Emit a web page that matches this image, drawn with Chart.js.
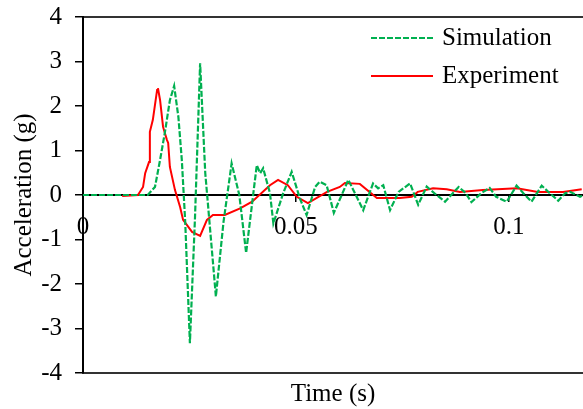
<!DOCTYPE html>
<html>
<head>
<meta charset="utf-8">
<script src="https://cdn.jsdelivr.net/npm/chart.js@4"></script>
<style>
  body { margin: 0; background: #fff; }
  #wrap { width: 583px; height: 409px; }
</style>
</head>
<body>
<div id="wrap"><canvas id="accelChart" width="583" height="409"></canvas></div>
<script>
// values
const simTime = [0, 0.0152, 0.0169, 0.0181, 0.0192, 0.0204, 0.0214, 0.0224, 0.0232, 0.0240, 0.0251, 0.0263, 0.0275, 0.0287, 0.0312, 0.0330, 0.0349, 0.0367, 0.0383, 0.0408, 0.0416, 0.0423, 0.0439, 0.0447, 0.0470, 0.0490, 0.0509, 0.0525, 0.0545, 0.0556, 0.0572, 0.0589, 0.0623, 0.0658, 0.0681, 0.0693, 0.0705, 0.0721, 0.0741, 0.0768, 0.0787, 0.0807, 0.0830, 0.0850, 0.0882, 0.0898, 0.0912, 0.0935, 0.0955, 0.0970, 0.0995, 0.1018, 0.1034, 0.1053, 0.1077, 0.1096, 0.1116, 0.1132, 0.1144, 0.1167, 0.1175];
const simAccel = [0, 0, 0.18, 0.79, 1.39, 2.13, 2.45, 1.75, 0.79, -0.6, -3.33, -0.5, 2.96, 0.5, -2.28, -0.6, 0.71, 0.0, -1.30, 0.67, 0.49, 0.60, 0.04, -0.64, 0.04, 0.52, -0.07, -0.45, 0.18, 0.30, 0.22, -0.40, 0.34, -0.34, 0.26, 0.15, 0.22, -0.34, 0.07, 0.26, -0.22, 0.19, 0.0, -0.15, 0.18, 0.05, -0.16, 0.04, 0.16, -0.04, -0.15, 0.21, 0.04, -0.15, 0.21, 0.04, -0.13, 0.04, 0.07, -0.04, 0.0];

const expTime = [0.0092, 0.0129, 0.0141, 0.0146, 0.0155, 0.0157, 0.0164, 0.0174, 0.0176, 0.0181, 0.0188, 0.0197, 0.0200, 0.0204, 0.0216, 0.0228, 0.0235, 0.0256, 0.0275, 0.0291, 0.0305, 0.0333, 0.0369, 0.0397, 0.0439, 0.0458, 0.0481, 0.0502, 0.0528, 0.0573, 0.0603, 0.0615, 0.0650, 0.0690, 0.0744, 0.0772, 0.0786, 0.0822, 0.0854, 0.0885, 0.0939, 0.1019, 0.1068, 0.1127, 0.1171];
const expAccel = [-0.02, 0, 0.18, 0.49, 0.74, 1.42, 1.69, 2.36, 2.40, 2.13, 1.53, 1.24, 1.17, 0.63, 0.11, -0.27, -0.56, -0.83, -0.92, -0.56, -0.45, -0.45, -0.30, -0.15, 0.22, 0.34, 0.22, -0.04, -0.18, 0.07, 0.18, 0.27, 0.25, -0.07, -0.07, -0.04, 0.07, 0.15, 0.13, 0.07, 0.11, 0.15, 0.07, 0.07, 0.13];

const xTicks = [0, 0.05, 0.1];
const yTicks = [-4, -3, -2, -1, 0, 1, 2, 3, 4];

const toPoints = (xs, ys) => xs.map((x, i) => ({ x: x, y: ys[i] }));

Chart.defaults.font.family = "'Liberation Serif', 'Times New Roman', serif";
Chart.defaults.font.size = 25;
Chart.defaults.color = '#000';

// no extra room for half labels, the frame is set by the fixed box sizes
const noPad = (scale) => {
    scale.paddingTop = 0;
    scale.paddingBottom = 0;
    scale.paddingLeft = 0;
    scale.paddingRight = 0;
};

// legend drawn inside the plot, top right
const innerLegend = {
    id: 'innerLegend',
    afterDatasetsDraw(chart) {
        const c = chart.ctx;
        const rows = [38, 76];
        chart.data.datasets.forEach((ds, i) => {
            const y = rows[i];
            c.save();
            c.strokeStyle = ds.borderColor;
            c.lineWidth = ds.borderWidth;
            c.setLineDash(ds.borderDash || []);
            c.beginPath();
            c.moveTo(371, y);
            c.lineTo(433, y);
            c.stroke();
            c.setLineDash([]);
            c.fillStyle = '#000';
            c.font = "25px 'Liberation Serif'";
            c.textBaseline = 'middle';
            c.fillText(ds.label, 442, y);
            c.restore();
        });
    }
};

const ctx = document.getElementById('accelChart').getContext('2d');
const accelChart = new Chart(ctx, {
    type: 'line',
    data: {
        datasets: [{
            label: 'Simulation',
            data: toPoints(simTime, simAccel),
            borderColor: '#00B050',
            borderWidth: 2.2,
            borderDash: [6, 2],
            pointRadius: 0,
            tension: 0,
            fill: false
        }, {
            label: 'Experiment',
            data: toPoints(expTime, expAccel),
            borderColor: '#FF0000',
            borderWidth: 2,
            pointRadius: 0,
            tension: 0,
            fill: false
        }]
    },
    options: {
        responsive: false,
        animation: false,
        layout: { padding: 0 },
        plugins: {
            legend: { display: false },
            tooltip: { enabled: false }
        },
        scales: {
            x: {
                type: 'linear',
                position: { y: 0 },
                min: 0,
                max: 0.1174,
                afterBuildTicks: (scale) => { scale.ticks = xTicks.map(v => ({ value: v })); },
                afterFit: (scale) => { scale.height = 0; noPad(scale); },
                grid: { display: true, drawOnChartArea: false, drawTicks: true, tickLength: 6, color: '#000', lineWidth: 1.5 },
                border: { display: true, color: '#000', width: 2 },
                ticks: { maxRotation: 0, padding: 11, callback: (v) => String(v) }
            },
            xBottom: {
                type: 'linear',
                position: 'bottom',
                min: 0,
                max: 0.1174,
                afterFit: (scale) => { scale.height = 36; noPad(scale); },
                grid: { display: false },
                border: { display: true, color: '#333', width: 2 },
                ticks: { display: false },
                title: { display: true, text: 'Time (s)', padding: { top: 0, bottom: 0 } }
            },
            xTop: {
                type: 'linear',
                position: 'top',
                min: 0,
                max: 0.1174,
                afterFit: (scale) => { scale.height = 17; noPad(scale); },
                grid: { display: false },
                border: { display: true, color: '#333', width: 2 },
                ticks: { display: false }
            },
            y: {
                min: -4,
                max: 4,
                afterBuildTicks: (scale) => { scale.ticks = yTicks.map(v => ({ value: v })); },
                afterFit: (scale) => { scale.width = 83; noPad(scale); },
                grid: { display: true, drawOnChartArea: false, drawTicks: true, tickLength: 8, color: '#000', lineWidth: 1.5 },
                border: { display: true, color: '#000', width: 2 },
                ticks: { padding: 13 },
                title: { display: true, text: 'Acceleration (g)', padding: { top: 9, bottom: 0 } }
            }
        }
    },
    plugins: [innerLegend]
});
</script>
</body>
</html>
